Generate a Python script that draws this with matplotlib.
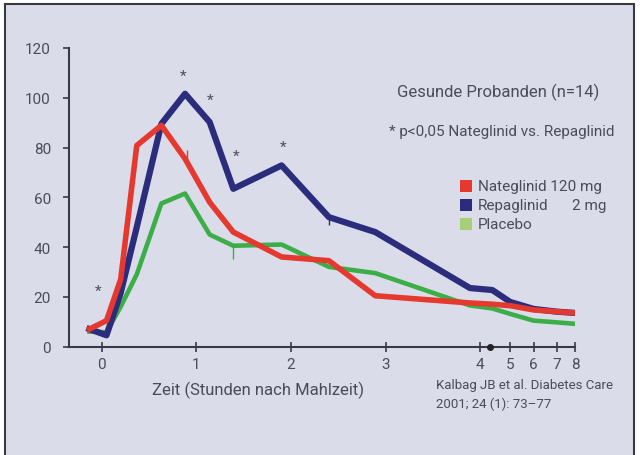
import matplotlib
matplotlib.use('Agg')
import matplotlib.pyplot as plt
import numpy as np
from matplotlib.patches import Rectangle
from matplotlib.ticker import FixedLocator

# Zeit in Stunden nach Mahlzeit
hours = [-0.13, 0.05, 0.2, 0.37, 0.63, 0.88, 1.14, 1.39, 1.9, 2.4, 2.89, 3.89, 4.4, 5, 6, 7, 8]
nateglinid = [7, 10.4, 27, 80.8, 88.9, 75.5, 58, 46, 36, 34.5, 20.4, 17.5, 17, 16.4, 14.7, 14, 13.5]
repaglinid = [7, 4.5, 21.5, 48, 89.5, 101.6, 90.2, 63.4, 72.8, 52, 46, 23.5, 22.7, 17.9, 15.1, 14, 13.5]
placebo = [6, 5.7, 16, 29, 57.5, 61.5, 45, 40.5, 41, 32, 29.5, 16.5, 15.3, 13.1, 10.4, 9.7, 9.1]

star_hours = [-0.04, 0.86, 1.15, 1.42, 1.92]
star_values = [22.5, 109, 99.3, 76.8, 80.2]

err_hours = [0.9, 1.39, 2.4]
err_low = [75, 35, 49]
err_high = [79, 40.5, 52]

hour_ticks = [0, 1, 2, 3, 4, 5, 6, 7, 8]
value_ticks = [0, 20, 40, 60, 80, 100, 120]

legend_labels = ['Nateglinid 120 mg', 'Repaglinid', 'Placebo']

RED = '#e5392f'
BLUE = '#2b2d7c'
GREEN = '#3cae48'
GREEN_KEY = '#a6cf78'
BG = '#dadcea'
TXT = '#4c4c58'
COLORS = [RED, GREEN, BLUE]

# compressed time axis after 4 h
tail_hours = [4, 5, 6, 7, 8]
tail_pos = [4, 4.316, 4.563, 4.81, 5.0]


def forward(h):
    h = np.asarray(h, dtype=float)
    return np.where(h <= 4, h, np.interp(h, tail_hours, tail_pos))


def inverse(u):
    u = np.asarray(u, dtype=float)
    return np.where(u <= 4, u, np.interp(u, tail_pos, tail_hours))


W, H = 640, 456


def px(x, y):
    return x / W, 1 - y / H


plt.rcParams['font.family'] = ['Roboto', 'DejaVu Sans']

fig = plt.figure(figsize=(6.4, 4.56), dpi=100)
fig.patch.set_facecolor('white')
fig.patches.append(Rectangle(px(5, 460), 629 / W, 455 / H, transform=fig.transFigure,
                             facecolor=BG, edgecolor='#3a3a3a', linewidth=1.5, zorder=-5))

ax = fig.add_axes([69 / W, 1 - 347.5 / H, (575 - 69) / W, (347.5 - 49) / H])
ax.set_zorder(2)
ax.set_facecolor('none')
ax.set_xscale('function', functions=(forward, inverse))
ax.set_xlim(-0.346, 8)
ax.set_ylim(0, 120)

ax.plot(hours, placebo, color=GREEN, lw=3.3, solid_joinstyle='round', zorder=3)
ax.plot(hours, repaglinid, color=BLUE, lw=4.5, solid_joinstyle='round', zorder=4)
ax.plot(hours, nateglinid, color=RED, lw=4.0, solid_joinstyle='round', zorder=5)
ax.vlines(err_hours, err_low, err_high, colors=COLORS, lw=1.0, zorder=6)

for h, v in zip(star_hours, star_values):
    ax.text(h, v, '*', ha='center', va='center', fontsize=11, color='#50505c', zorder=6)

# axis break mark
ax.plot([4.33], [0], 'o', color='#222222', ms=4, clip_on=False, zorder=7)

for side in ['top', 'right']:
    ax.spines[side].set_visible(False)
for side in ['left', 'bottom']:
    ax.spines[side].set_color('#3a3a46')
    ax.spines[side].set_linewidth(1.5)

ax.xaxis.set_major_locator(FixedLocator(hour_ticks))
ax.xaxis.set_minor_locator(FixedLocator([]))
ax.set_xticklabels([str(t) for t in hour_ticks])
ax.set_yticks(value_ticks)
ax.tick_params(axis='x', direction='inout', length=7, width=1.2, color='#3a3a46',
               labelsize=11, labelcolor=TXT, pad=4)
ax.tick_params(axis='y', direction='out', length=4, width=1.2, color='#3a3a46',
               labelsize=11, labelcolor=TXT, pad=9)

fig.text(*px(258, 390), 'Zeit (Stunden nach Mahlzeit)', ha='center', va='center',
         fontsize=12, color=TXT)
fig.text(*px(436, 386), 'Kalbag JB et al. Diabetes Care', ha='left', va='center',
         fontsize=9.5, color=TXT)
fig.text(*px(436, 404), '2001; 24 (1): 73\u201377', ha='left', va='center',
         fontsize=9.5, color=TXT)

fig.text(*px(498, 92), 'Gesunde Probanden (n=14)', ha='center', va='center',
         fontsize=12, color=TXT)
fig.text(*px(502, 132), '* p<0,05 Nateglinid vs. Repaglinid', ha='center', va='center',
         fontsize=11, color=TXT)

key_rows = [187, 206, 225]
key_colors = [RED, BLUE, GREEN_KEY]
for y, c, label in zip(key_rows, key_colors, legend_labels):
    fig.patches.append(Rectangle(px(460, y + 6), 12 / W, 12 / H, transform=fig.transFigure,
                                 facecolor=c, edgecolor='none', zorder=2))
    fig.text(*px(478, y), label, ha='left', va='center', fontsize=11, color=TXT)
fig.text(*px(606, key_rows[1]), '2 mg', ha='right', va='center', fontsize=11, color=TXT)

fig.savefig('out.png', dpi=100, facecolor=fig.get_facecolor())
